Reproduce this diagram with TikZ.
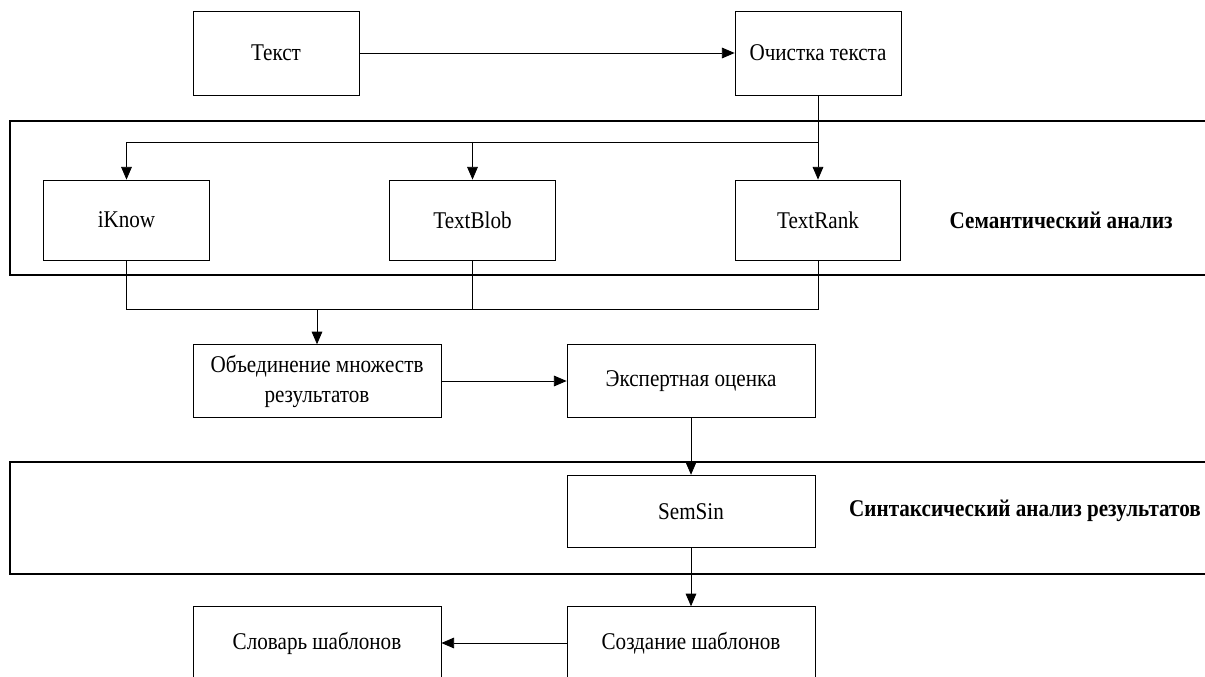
\documentclass[tikz,border=0pt]{standalone}
\usepackage{fontspec}
\setmainfont{Liberation Serif}[FakeStretch=0.88]
\usetikzlibrary{arrows.meta,positioning,calc}

\begin{document}
\begin{tikzpicture}[x=0.75pt,y=-0.75pt,
  box/.style={draw,line width=0.6pt,align=center,inner sep=0pt,font=\fontsize{18pt}{22.5pt}\selectfont},
  topbox/.style={box,minimum width=124.5pt,minimum height=63pt},
  toolbox/.style={box,minimum width=124pt,minimum height=60pt},
  widebox/.style={box,minimum width=186pt,minimum height=54.5pt},
  band/.style={draw,line width=1.4pt},
  bandlabel/.style={anchor=east,inner sep=0pt,font=\bfseries\fontsize{18pt}{22pt}\selectfont},
  link/.style={line width=0.6pt},
  arr/.style={link,-{Triangle[width=8pt,length=9.5pt]}}]
  \useasboundingbox (0,0) rectangle (1205,677);
  \clip (0,0) rectangle (1205,677);

  % bands
  \draw[band] (10,121) rectangle (1240,275);
  \node[bandlabel] (semlabel) at (1173,220) {Семантический анализ};
  \draw[band] (10,462) rectangle (1240,574);
  \node[bandlabel] (synlabel) at (1201,511) {Синтаксический анализ результатов};

  % boxes
  \node[topbox] (text) at (276,53) {Текст};
  \node[topbox] (clean) at (818,53) {Очистка текста};
  \node[toolbox] (iknow) at (126.5,220) {iKnow};
  \node[toolbox] (textblob) at (472.5,220) {TextBlob};
  \node[toolbox] (textrank) at (818,220) {TextRank};
  \node[widebox] (union) at (317,381) {Объединение множеств\\результатов};
  \node[widebox] (expert) at (691,381) {Экспертная оценка};
  \node[widebox] (semsin) at (691,511.5) {SemSin};
  \node[widebox] (create) at (691,643) {Создание шаблонов};
  \node[widebox] (dict) at (317,643) {Словарь шаблонов};

  % connectors
  \coordinate (split) at (818,142);
  \coordinate (merge) at (317,309);
  \draw[arr] (text) -- (clean);
  \draw[arr] (clean) -- (textrank);
  \draw[arr] (split) -| (iknow);
  \draw[arr] (split -| textblob) -- (textblob);
  \draw[link] (iknow) |- (merge -| textrank) -- (textrank);
  \draw[link] (textblob) -- (textblob |- merge);
  \draw[arr] (merge) -- (union);
  \draw[arr] (union) -- (expert);
  \draw[arr] (expert) -- (semsin);
  \draw[arr] (semsin) -- (create);
  \draw[arr] (create) -- (dict);
\end{tikzpicture}
\end{document}
